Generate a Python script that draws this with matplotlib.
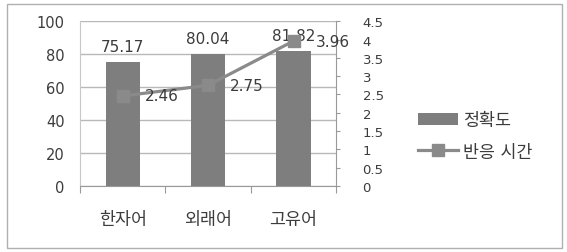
import matplotlib.pyplot as plt
from matplotlib.patches import Rectangle

plt.rcParams['font.family'] = ['DejaVu Sans', 'Noto Sans CJK KR']

categorias = ['한자어', '외래어', '고유어']
정확도 = [75.17, 80.04, 81.82]
반응시간 = [2.46, 2.75, 3.96]
ticks_esq = [0, 20, 40, 60, 80, 100]
ticks_dir = [0, 0.5, 1, 1.5, 2, 2.5, 3, 3.5, 4, 4.5]
rotulos_dir = ['0', '0.5', '1', '1.5', '2', '2.5', '3', '3.5', '4', '4.5']

cor_texto = '#3c3c3c'

fig = plt.figure(figsize=(5.67, 2.53), dpi=100)
fig.patches.append(Rectangle((0.012, 0.015), 0.98, 0.965, transform=fig.transFigure,
                             fill=False, edgecolor='#b0b0b0', linewidth=1))

ax = fig.add_axes([0.141, 0.261, 0.452, 0.651])
x = list(range(len(categorias)))
bars = ax.bar(x, 정확도, width=0.40, color='#7e7e7e', label='정확도', zorder=2)
ax.set_ylim(0, 100)
ax.set_xlim(-0.5, 2.5)
ax.set_yticks(ticks_esq)
ax.grid(axis='y', color='#b8b8b8', linewidth=1, zorder=0)
for s in ['top', 'right']:
    ax.spines[s].set_visible(False)
ax.spines['left'].set_color('#c8c8c8')
ax.spines['bottom'].set_color('#999999')
ax.tick_params(axis='y', length=0, labelsize=10.5, colors=cor_texto, pad=11)

# ticks nas divisas das categorias, rotulos no centro
ax.set_xticks([-0.5, 0.5, 1.5, 2.5])
ax.set_xticklabels([])
ax.tick_params(axis='x', which='major', length=5, color='#999999')
ax.set_xticks(x, minor=True)
ax.set_xticklabels(categorias, minor=True, fontsize=12.5, color=cor_texto)
ax.tick_params(axis='x', which='minor', length=0, pad=17)

for i, v in enumerate(정확도):
    ax.text(i, v + 9.5, f'{v:.2f}', ha='center', va='center', fontsize=11, color=cor_texto, zorder=4)

ax2 = ax.twinx()
line, = ax2.plot(x, 반응시간, color='#8a8a8a', lw=2.3, marker='s', markersize=8,
                 label='반응 시간', zorder=5)
ax2.set_ylim(0, 4.5)
ax2.set_yticks(ticks_dir)
ax2.set_yticklabels(rotulos_dir)
for s in ['top', 'left', 'bottom']:
    ax2.spines[s].set_visible(False)
ax2.spines['right'].set_color('#999999')
ax2.tick_params(axis='y', length=3, labelsize=9.5, colors=cor_texto, pad=16)
ax2.tick_params(axis='y', color='#999999')
for i, v in enumerate(반응시간):
    ax2.text(i + 0.26, v, f'{v:.2f}', ha='left', va='center',
             fontsize=11, color=cor_texto, zorder=6)

leg = fig.legend([bars, line], ['정확도', '반응 시간'], loc='center left',
                 bbox_to_anchor=(0.71, 0.46), frameon=False, fontsize=12.5,
                 handlelength=2.3, labelspacing=0.8, handletextpad=0.3)
for t in leg.get_texts():
    t.set_color(cor_texto)

fig.savefig('out.png', dpi=100)
